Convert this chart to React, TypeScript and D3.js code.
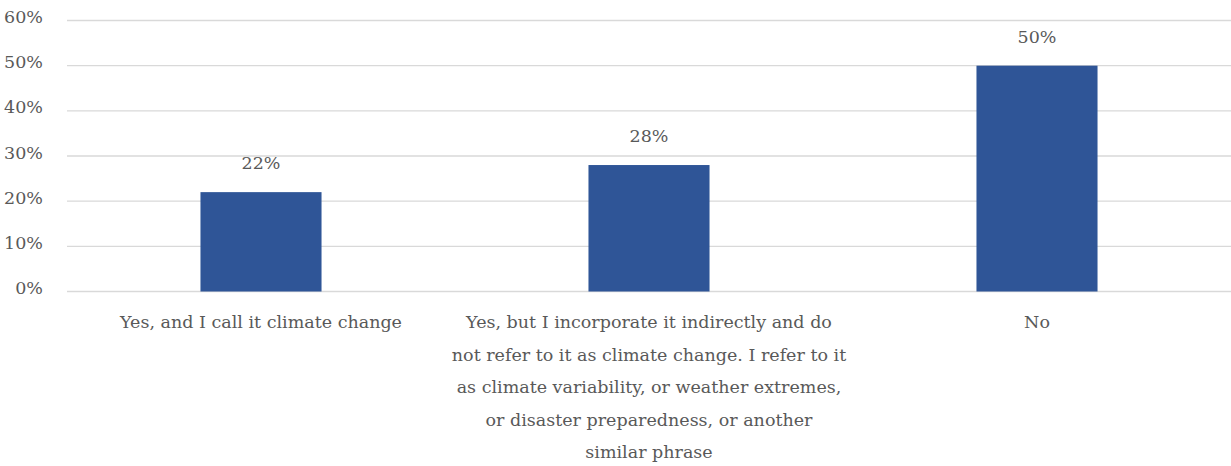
import React from "react";
import * as d3 from "d3";

// Survey answers (category lines as they break under the axis) and shares in percent
const categoryLines: string[][] = [
  ["Yes, and I call it climate change"],
  [
    "Yes, but I incorporate it indirectly and do",
    "not refer to it as climate change. I refer to it",
    "as climate variability, or weather extremes,",
    "or disaster preparedness, or another",
    "similar phrase",
  ],
  ["No"],
];
const shares: number[] = [22, 28, 50];
const yTicks: number[] = [0, 10, 20, 30, 40, 50, 60];

const W = 1231;
const H = 466;
const FONT = "'DejaVu Serif', 'Liberation Serif', serif";
const FS = 17.5;
const TEXT = "#595959";
const BAR = "#2F5597";
const GRID = "#D9D9D9";

export default function App() {
  const left = 67;
  const right = 1231;
  const top = 20.5;
  const bottom = 291.5;

  const keys = categoryLines.map((_, i) => String(i));
  const x = d3
    .scaleBand<string>()
    .domain(keys)
    .range([left, right])
    .paddingInner(0.688)
    .paddingOuter(0.344);
  const y = d3.scaleLinear().domain([0, 60]).range([bottom, top]);
  const fmt = (v: number) => `${v}%`;

  return (
    <svg
      width={W}
      height={H}
      style={{ position: "absolute", left: 0, top: 0, background: "#fff" }}
      fontFamily={FONT}
    >
      {yTicks.map((t) => (
        <g key={t}>
          <line x1={left} x2={right} y1={y(t)} y2={y(t)} stroke={GRID} strokeWidth={1.3} />
          <text x={43} y={y(t) + 2.5} textAnchor="end" fontSize={FS} fill={TEXT}>
            {fmt(t)}
          </text>
        </g>
      ))}
      {shares.map((v, i) => {
        const bx = x(String(i))!;
        const bw = x.bandwidth();
        const cx = bx + bw / 2;
        return (
          <g key={i}>
            <rect x={bx} y={y(v)} width={bw} height={y(0) - y(v)} fill={BAR} />
            <text x={cx} y={y(v) - 23} textAnchor="middle" fontSize={FS} fill={TEXT}>
              {fmt(v)}
            </text>
            <text textAnchor="middle" fontSize={FS} fill={TEXT}>
              {categoryLines[i].map((line, j) => (
                <tspan key={j} x={cx} y={328 + j * 32.5}>
                  {line}
                </tspan>
              ))}
            </text>
          </g>
        );
      })}
    </svg>
  );
}
